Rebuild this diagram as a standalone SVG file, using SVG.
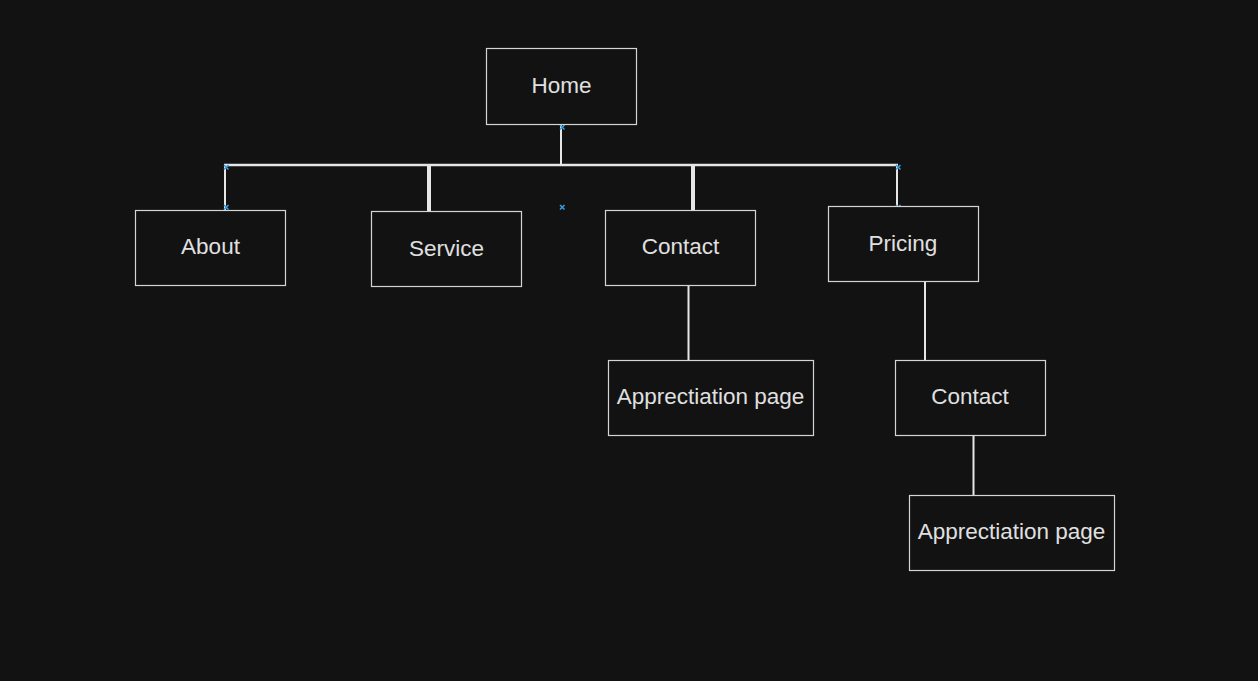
<svg xmlns="http://www.w3.org/2000/svg" width="1258" height="681" viewBox="0 0 1258 681">
<style>
.box{fill:#121212;stroke:#d4d4d4;stroke-width:1.2}
.lbl{font-family:"Liberation Sans",Arial,sans-serif;font-size:22.5px;fill:#e0e0e0;text-anchor:middle;dominant-baseline:central}
.ln{stroke:#e6e6e6;fill:none}
.mk{stroke:#3a9ad9;stroke-width:1.6;fill:none}
</style>
<rect width="1258" height="681" fill="#121212"/>
<g id="connectors">
<path class="ln" stroke-width="2" d="M561 125V165"/>
<path class="ln" stroke-width="2.5" d="M224 165H898"/>
<path class="ln" stroke-width="2" d="M225 166V210"/>
<path class="ln" stroke-width="4" d="M429 166V211"/>
<path class="ln" stroke-width="4" d="M693 166V210"/>
<path class="ln" stroke-width="2" d="M897 166V206"/>
<path class="ln" stroke-width="2" d="M688.5 286V360"/>
<path class="ln" stroke-width="2" d="M925 281V360"/>
<path class="ln" stroke-width="2" d="M973.5 436V495"/>
</g>
<g id="markers">
<path class="mk" d="M560 125l4.5 4.5m0-4.5l-4.5 4.5"/>
<path class="mk" d="M224 165l4.5 4.5m0-4.5l-4.5 4.5"/>
<path class="mk" d="M224 205l4.5 4.5m0-4.5l-4.5 4.5"/>
<path class="mk" d="M560 205l4.5 4.5m0-4.5l-4.5 4.5"/>
<path class="mk" d="M896 165l4.5 4.5m0-4.5l-4.5 4.5"/>
<path class="mk" d="M896 205l4.5 4.5m0-4.5l-4.5 4.5"/>
</g>
<g id="home"><rect class="box" x="486.5" y="48.5" width="150" height="76"/><text class="lbl" x="561.5" y="85.5">Home</text></g>
<g id="about"><rect class="box" x="135.5" y="210.5" width="150" height="75"/><text class="lbl" x="210.5" y="246.5">About</text></g>
<g id="service"><rect class="box" x="371.5" y="211.5" width="150" height="75"/><text class="lbl" x="446.5" y="248.5">Service</text></g>
<g id="contact"><rect class="box" x="605.5" y="210.5" width="150" height="75"/><text class="lbl" x="680.5" y="246.5">Contact</text></g>
<g id="pricing"><rect class="box" x="828.5" y="206.5" width="150" height="75"/><text class="lbl" x="903" y="243.5">Pricing</text></g>
<g id="appreciation1"><rect class="box" x="608.5" y="360.5" width="205" height="75"/><text class="lbl" x="710.5" y="396.5">Apprectiation page</text></g>
<g id="contact2"><rect class="box" x="895.5" y="360.5" width="150" height="75"/><text class="lbl" x="970" y="396.5">Contact</text></g>
<g id="appreciation2"><rect class="box" x="909.5" y="495.5" width="205" height="75"/><text class="lbl" x="1011.5" y="531.5">Apprectiation page</text></g>
</svg>
